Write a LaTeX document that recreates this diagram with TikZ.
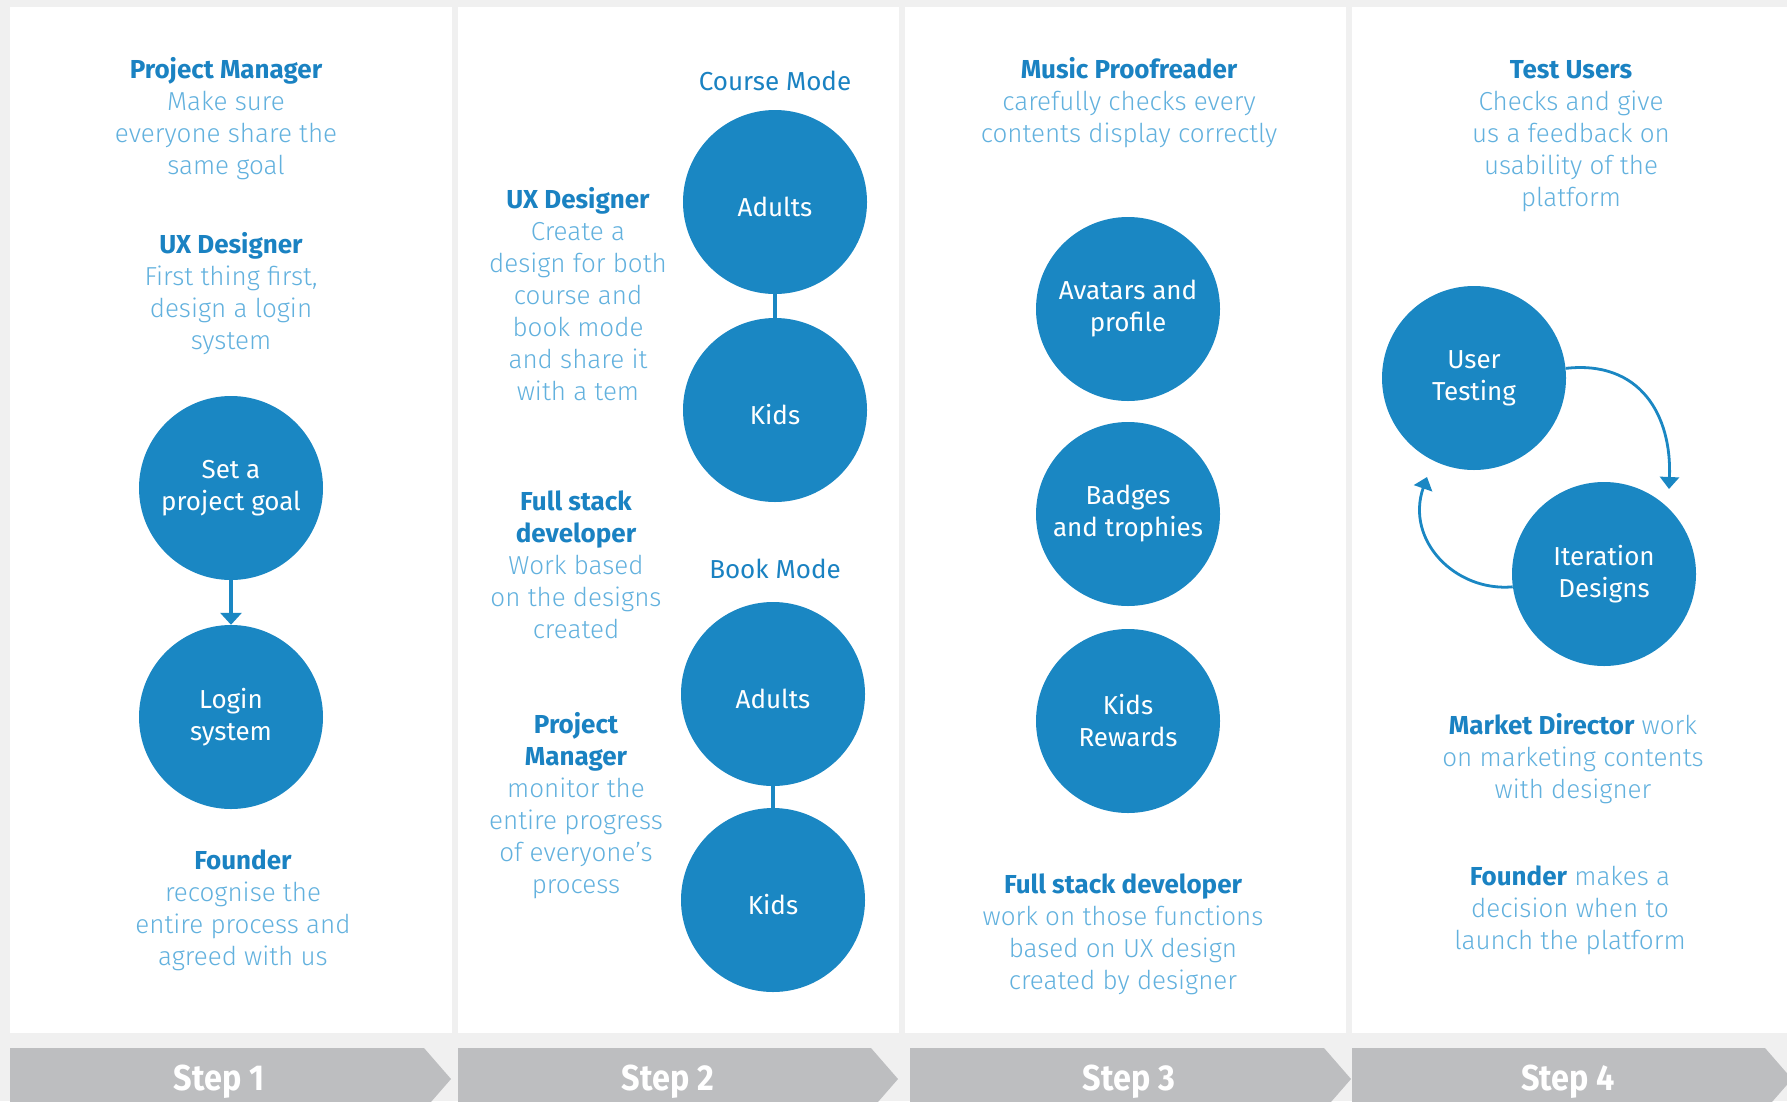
\documentclass[tikz,border=0pt]{standalone}
\usepackage{fontspec}
\setmainfont{Fira Sans}
\newfontfamily\lightf{Fira Sans Light}
\usetikzlibrary{arrows.meta}
\definecolor{bgc}{HTML}{F0F0F0}
\definecolor{tblue}{HTML}{1A82C2}
\definecolor{cblue}{HTML}{1A87C3}
\definecolor{lblue}{HTML}{62B1DE}
\definecolor{stepc}{HTML}{BDBEC0}
\newcommand\mytitle[1]{{\normalfont\bfseries\color{tblue}#1}}
\newcommand\oneline[1]{\raisebox{-14pt}[0pt][0pt]{#1}}
\tikzset{
  panel/.style={fill=white, draw=none},
  blk/.style={align=center, inner sep=0pt, text=lblue, font=\lightf\fontsize{26}{32}\selectfont},
  modelbl/.style={inner sep=0pt, text=tblue, font=\fontsize{26}{32}\selectfont},
  circ/.style={circle, fill=cblue, minimum size=184pt, inner sep=0pt, text=white, align=center, font=\fontsize{26}{32}\selectfont},
  steparrow/.style={fill=stepc, draw=none},
  steplbl/.style={text=white, font=\bfseries\fontsize{36}{40}\selectfont, inner sep=0pt},
  link/.style={draw=cblue, line width=3.5pt},
  arr/.style={draw=cblue, line width=3.5pt, -{Triangle[width=21pt,length=12pt]}},
  carr/.style={draw=cblue, line width=2.8pt, -{Triangle[width=19pt,length=12pt]}}
}
\begin{document}
\begin{tikzpicture}[x=1pt,y=-1pt]
\useasboundingbox (0,0) rectangle (1787,1101);
\fill[bgc] (0,0) rectangle (1787,1101);
% panels
\fill[panel] (10,7) rectangle (452,1033);
\fill[panel] (458,7) rectangle (899,1033);
\fill[panel] (905,7) rectangle (1346,1033);
\fill[panel] (1352,7) rectangle (1787,1033);
% step bars
\fill[steparrow] (10,1048) -- (424,1048) -- (451,1079) -- (424,1110) -- (10,1110) -- cycle;
\fill[steparrow] (458,1048) -- (871,1048) -- (898,1079) -- (871,1110) -- (458,1110) -- cycle;
\fill[steparrow] (910,1048) -- (1324,1048) -- (1351,1079) -- (1324,1110) -- (910,1110) -- cycle;
\fill[steparrow] (1352,1048) -- (1765,1048) -- (1792,1079) -- (1765,1110) -- (1352,1110) -- cycle;
\node[steplbl] (s1) at (219,1082) {\scalebox{0.9}[1]{Step 1}};
\node[steplbl] (s2) at (668,1082) {\scalebox{0.9}[1]{Step 2}};
\node[steplbl] (s3) at (1129,1082) {\scalebox{0.9}[1]{Step 3}};
\node[steplbl] (s4) at (1568,1082) {\scalebox{0.9}[1]{Step 4}};

% ---------- Step 1
\node[blk] (pm1) at (226,120.5) {\strut\mytitle{Project Manager}\\Make sure\\everyone share the\\same goal\strut};
\node[blk] (ux1) at (231,295.5) {\strut\mytitle{UX Designer}\\First thing first,\\design a login\\system\strut};
\node[circ] (goal) at (231,488) {Set a\\project goal};
\node[circ] (login) at (231,717) {Login\\system};
\draw[arr] (goal) -- (login);
\node[blk] (fd1) at (243,911) {\strut\mytitle{Founder}\\recognise the\\entire process and\\agreed with us\strut};

% ---------- Step 2
\node[modelbl] (cm) at (775,81) {Course Mode};
\node[circ] (ca) at (775,202) {\oneline{Adults}};
\node[circ] (ck) at (775,410) {\oneline{Kids}};
\draw[link] (ca) -- (ck);
\node[blk] (ux2) at (578,298) {\strut\mytitle{UX Designer}\\Create a\\design for both\\course and\\book mode\\and share it\\with a tem\strut};
\node[blk] (fs2) at (576,568.5) {\strut\mytitle{Full stack}\\\mytitle{developer}\\Work based\\on the designs\\created\strut};
\node[modelbl] (bm) at (775,569) {Book Mode};
\node[circ] (ba) at (773,694) {\oneline{Adults}};
\node[circ] (bk) at (773,900) {\oneline{Kids}};
\draw[link] (ba) -- (bk);
\node[blk] (pm2) at (576,807.5) {\strut\mytitle{Project}\\\mytitle{Manager}\\monitor the\\entire progress\\of everyone’s\\process\strut};

% ---------- Step 3
\node[blk] (mp3) at (1129,104.5) {\strut\mytitle{Music Proofreader}\\carefully checks every\\contents display correctly\strut};
\node[circ] (av) at (1128,309) {Avatars and\\profile};
\node[circ] (bt) at (1128,514) {Badges\\and trophies};
\node[circ] (kr) at (1128,721) {Kids\\Rewards};
\node[blk] (fs3) at (1123,935) {\strut\mytitle{Full stack developer}\\work on those functions\\based on UX design\\created by designer\strut};

% ---------- Step 4
\node[blk] (tu4) at (1571,136.5) {\strut\mytitle{Test Users}\\Checks and give\\us a feedback on\\usability of the\\platform\strut};
\node[circ] (ut) at (1474,378) {User\\Testing};
\node[circ] (itd) at (1604,574) {Iteration\\Designs};
\coordinate (t1) at (1669,489);
\coordinate (t2) at (1427,477);
\draw[carr] (ut.6) .. controls (1640,360) and (1672,415) .. (t1);
\draw[carr] (itd.188) .. controls (1455,592) and (1405,540) .. (t2);
\node[blk] (md4) at (1573,760) {\strut\mytitle{Market Director} work\\on marketing contents\\with designer\strut};
\node[blk] (fd4) at (1570,911) {\strut\mytitle{Founder} makes a\\decision when to\\launch the platform\strut};
\end{tikzpicture}
\end{document}
